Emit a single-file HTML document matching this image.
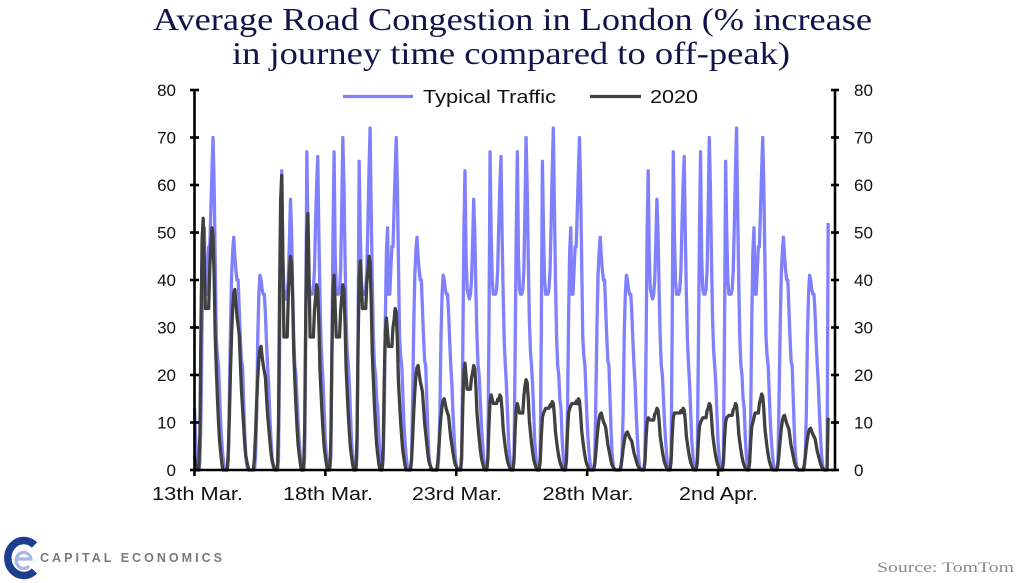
<!DOCTYPE html>
<html><head><meta charset="utf-8">
<style>
html,body{margin:0;padding:0;background:#fff;}
svg{display:block;}
</style></head><body>
<svg id="c" width="1024" height="583" viewBox="0 0 1024 583" xmlns="http://www.w3.org/2000/svg">
<rect width="1024" height="583" fill="#fff"/>
<!-- Title -->
<g font-family="'Liberation Serif', serif" fill="#13134b" font-size="32">
<text x="512.5" y="30" text-anchor="middle" textLength="719" lengthAdjust="spacingAndGlyphs">Average Road Congestion in London (% increase</text>
<text x="511" y="64" text-anchor="middle" textLength="558" lengthAdjust="spacingAndGlyphs">in journey time compared to off-peak)</text>
</g>

<!-- Legend -->
<line x1="343" y1="96.5" x2="413" y2="96.5" stroke="#8080ff" stroke-width="3.3"/>
<text x="423" y="103" font-family="'Liberation Sans', sans-serif" font-size="18" fill="#111" textLength="133" lengthAdjust="spacingAndGlyphs">Typical Traffic</text>
<line x1="590" y1="96.5" x2="641" y2="96.5" stroke="#404040" stroke-width="3.3"/>
<text x="650" y="103" font-family="'Liberation Sans', sans-serif" font-size="18" fill="#111" textLength="48" lengthAdjust="spacingAndGlyphs">2020</text>

<!-- Series -->
<polyline id="blue" fill="none" stroke="#8080ff" stroke-width="3.3" stroke-linejoin="round" points=""/>
<polyline id="black" fill="none" stroke="#404040" stroke-width="3.3" stroke-linejoin="round" points=""/>

<!-- Axes -->
<g stroke="#000" stroke-width="2.6" fill="none">
<line x1="194.5" y1="89" x2="194.5" y2="471"/>
<line x1="835" y1="89" x2="835" y2="471"/>
<line x1="193.5" y1="470" x2="836" y2="470"/>
<g id="ticks"></g>
</g>

<!-- Y labels -->
<g font-family="'Liberation Sans', sans-serif" font-size="17" fill="#111">
<g text-anchor="end">
<text x="176" y="96">80</text>
<text x="176" y="143.5">70</text>
<text x="176" y="191">60</text>
<text x="176" y="238.5">50</text>
<text x="176" y="286">40</text>
<text x="176" y="333.5">30</text>
<text x="176" y="381">20</text>
<text x="176" y="428.5">10</text>
<text x="176" y="476">0</text>
</g>
<g text-anchor="start">
<text x="854" y="96">80</text>
<text x="854" y="143.5">70</text>
<text x="854" y="191">60</text>
<text x="854" y="238.5">50</text>
<text x="854" y="286">40</text>
<text x="854" y="333.5">30</text>
<text x="854" y="381">20</text>
<text x="854" y="428.5">10</text>
<text x="854" y="476">0</text>
</g>
</g>

<!-- X labels -->
<g font-family="'Liberation Sans', sans-serif" font-size="18" fill="#111" text-anchor="middle">
<text x="197.5" y="500" textLength="91" lengthAdjust="spacingAndGlyphs">13th Mar.</text>
<text x="328" y="500" textLength="90" lengthAdjust="spacingAndGlyphs">18th Mar.</text>
<text x="457" y="500" textLength="90" lengthAdjust="spacingAndGlyphs">23rd Mar.</text>
<text x="588" y="500" textLength="91" lengthAdjust="spacingAndGlyphs">28th Mar.</text>
<text x="718.5" y="500" textLength="79" lengthAdjust="spacingAndGlyphs">2nd Apr.</text>
</g>

<!-- Logo -->
<path d="M34.5 545 A16 17.5 0 1 0 34.5 571" fill="none" stroke="#1d3d8f" stroke-width="7.5"/>
<path d="M17 559 H31 A7.5 8 0 1 0 29 566" fill="none" stroke="#a8b8e6" stroke-width="3.2"/>
<text x="40" y="562" font-family="'Liberation Sans', sans-serif" font-size="12.5" font-weight="bold" fill="#7a7a7a" textLength="182" lengthAdjust="spacing">CAPITAL ECONOMICS</text>

<!-- Source -->
<text x="1014" y="572" text-anchor="end" font-family="'Liberation Serif', serif" font-size="15" fill="#8a8a8a" textLength="137" lengthAdjust="spacingAndGlyphs">Source: TomTom</text>
</svg>
<script>
(function(){
var X0=194.5, DX=26.175/24, Y0=470, SY=4.75;
var BW={
 F:[13,7,3,0,0,2,12,32,46,51,37,37,42,47,47,55,63,70,60,44,28,24,22,16],
 S:[10,6,3,1,0,0,0,2,15,30,41,46,49,45,42,40,40,34,28,23,22,15,8,3],
 U:[1,0,0,0,0,0,0,0,3,12,28,37,41,40,38,37,37,33,27,22,18,12,7,3],
 M:[1,0,0,0,0,2,25,50,63,45,38,37,36,37,40,48,57,50,38,28,22,20,15,10],
 T:[6,3,0,0,0,3,30,67,50,40,37,37,37,38,42,52,60,66,50,37,27,22,18,12],
 W:[6,3,0,0,0,3,25,50,67,45,38,37,37,38,42,55,70,60,45,32,25,22,18,12],
 H:[6,3,0,0,0,3,30,65,50,40,37,37,37,38,42,52,63,72,55,40,28,22,20,15]
};
var P=[[53,34,51],[38],[26],[62,28,45],[54,28,39],[41,28,39],[44,34,45],
 [32,26,34],[22],[15],[22.5,17,22],[15.8,14,15.8],[14,12,19],[12,13,14.4],
 [13,14,15],[12],[8],[11,10.5,13],[12,12,13],[10,11,14],[11,11.5,14],[10,12,16],[11.5],[8.8]];
function wk(m,d,e,prev){return [0.6*prev,0.25*prev,0,0,0,0.15*m,0.6*m,0.92*m,m,(m+d)/2,d,d,d,d,(d+e)/2,0.93*e,e,0.97*e,0.8*e,0.55*e,0.42*e,0.3*e,0.2*e,0.12*e];}
function we(p,prev){var f=[0,0,0,0,0,0,0,0.1,0.3,0.55,0.75,0.9,0.98,1,0.92,0.85,0.8,0.75,0.6,0.45,0.35,0.25,0.15,0.08];var a=f.map(function(v){return v*p;});a[0]=0.6*prev;a[1]=0.25*prev;return a;}
var seq='FSUMTWH', blue=[], black=[], prevB=5;
for(var d=0; d<24; d++){
  var t=seq[d%7];
  blue=blue.concat(BW[t]);
  var p=P[d];
  var arr=p.length===3?wk(p[0],p[1],p[2],prevB):we(p[0],prevB);
  prevB=arr[23];
  black=black.concat(arr);
}
blue=blue.concat([1,0,0,0,0,52]);
black=black.concat([prevB*0.6,0,0,0,0,11]);
function pts(a){return a.map(function(v,i){return (X0+i*DX).toFixed(2)+','+(Y0-Math.max(0,v)*SY).toFixed(2);}).join(' ');}
document.getElementById('blue').setAttribute('points',pts(blue));
document.getElementById('black').setAttribute('points',pts(black));
var g=document.getElementById('ticks'), s='';
for(var k=0;k<=8;k++){
  var y=470-k*47.5;
  s+='<line x1="190" y1="'+y+'" x2="199" y2="'+y+'"/>';
  s+='<line x1="831" y1="'+y+'" x2="839" y2="'+y+'"/>';
}
for(var j=0;j<5;j++){
  var x=194.5+j*5*26.175;
  s+='<line x1="'+x+'" y1="470" x2="'+x+'" y2="476"/>';
}
g.innerHTML=s;
})();
</script>
</body></html>
